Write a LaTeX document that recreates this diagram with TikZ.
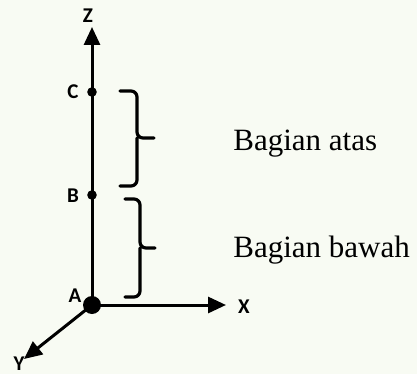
\documentclass[tikz,border=0pt]{standalone}
\usepackage{fontspec}
\setmainfont{Liberation Serif}
\newfontfamily\axisfont{Carlito}
\usetikzlibrary{arrows.meta}
\definecolor{paper}{RGB}{248,251,243}

\begin{document}
\begin{tikzpicture}[x=0.5pt, y=-0.5pt, line join=round, line cap=round,
  axis/.style={line width=1.5pt, -{Triangle[length=9pt,width=8pt]}},
  bracket/.style={line width=1.6pt, rounded corners=3pt},
  ptlabel/.style={inner sep=0pt, font=\axisfont\bfseries\fontsize{10.5}{12}\selectfont},
  part/.style={inner sep=0pt, anchor=base west, font=\fontsize{15.5}{18}\selectfont}]
\fill[paper] (0,0) rectangle (417,374);
\useasboundingbox (0,0) rectangle (417,374);
\coordinate (A) at (92,305);
\coordinate (B) at (92,195);
\coordinate (C) at (92,92);
\coordinate (Z) at (92,27);
\coordinate (X) at (226,305);
\coordinate (Y) at (24,359);
\draw[axis] (A) -- (Z);
\draw[axis] (A) -- (X);
\draw[axis] (A) -- (Y);
\fill (A) circle (4.5pt);
\fill (B) circle (2.4pt);
\fill (C) circle (2.4pt);
% brackets
\draw[bracket] (120,91) -- (137,91) -- (137,138) -- (154,138)
  (137,138) -- (137,186) -- (120,186);
\draw[bracket] (125,199) -- (140,199) -- (140,248) -- (155,248)
  (140,248) -- (140,297) -- (125,297);
% labels
\node[ptlabel] (lz) at (88,16) {Z};
\node[ptlabel] (lc) at (73,92) {C};
\node[ptlabel] (lb) at (73,196) {B};
\node[ptlabel] (la) at (75,296) {A};
\node[ptlabel] (lx) at (244,307) {X};
\node[ptlabel] (ly) at (19,364) {Y};
\node[part] (atas) at (233,150) {Bagian atas};
\node[part] (bawah) at (233,257) {Bagian bawah};
\end{tikzpicture}
\end{document}
